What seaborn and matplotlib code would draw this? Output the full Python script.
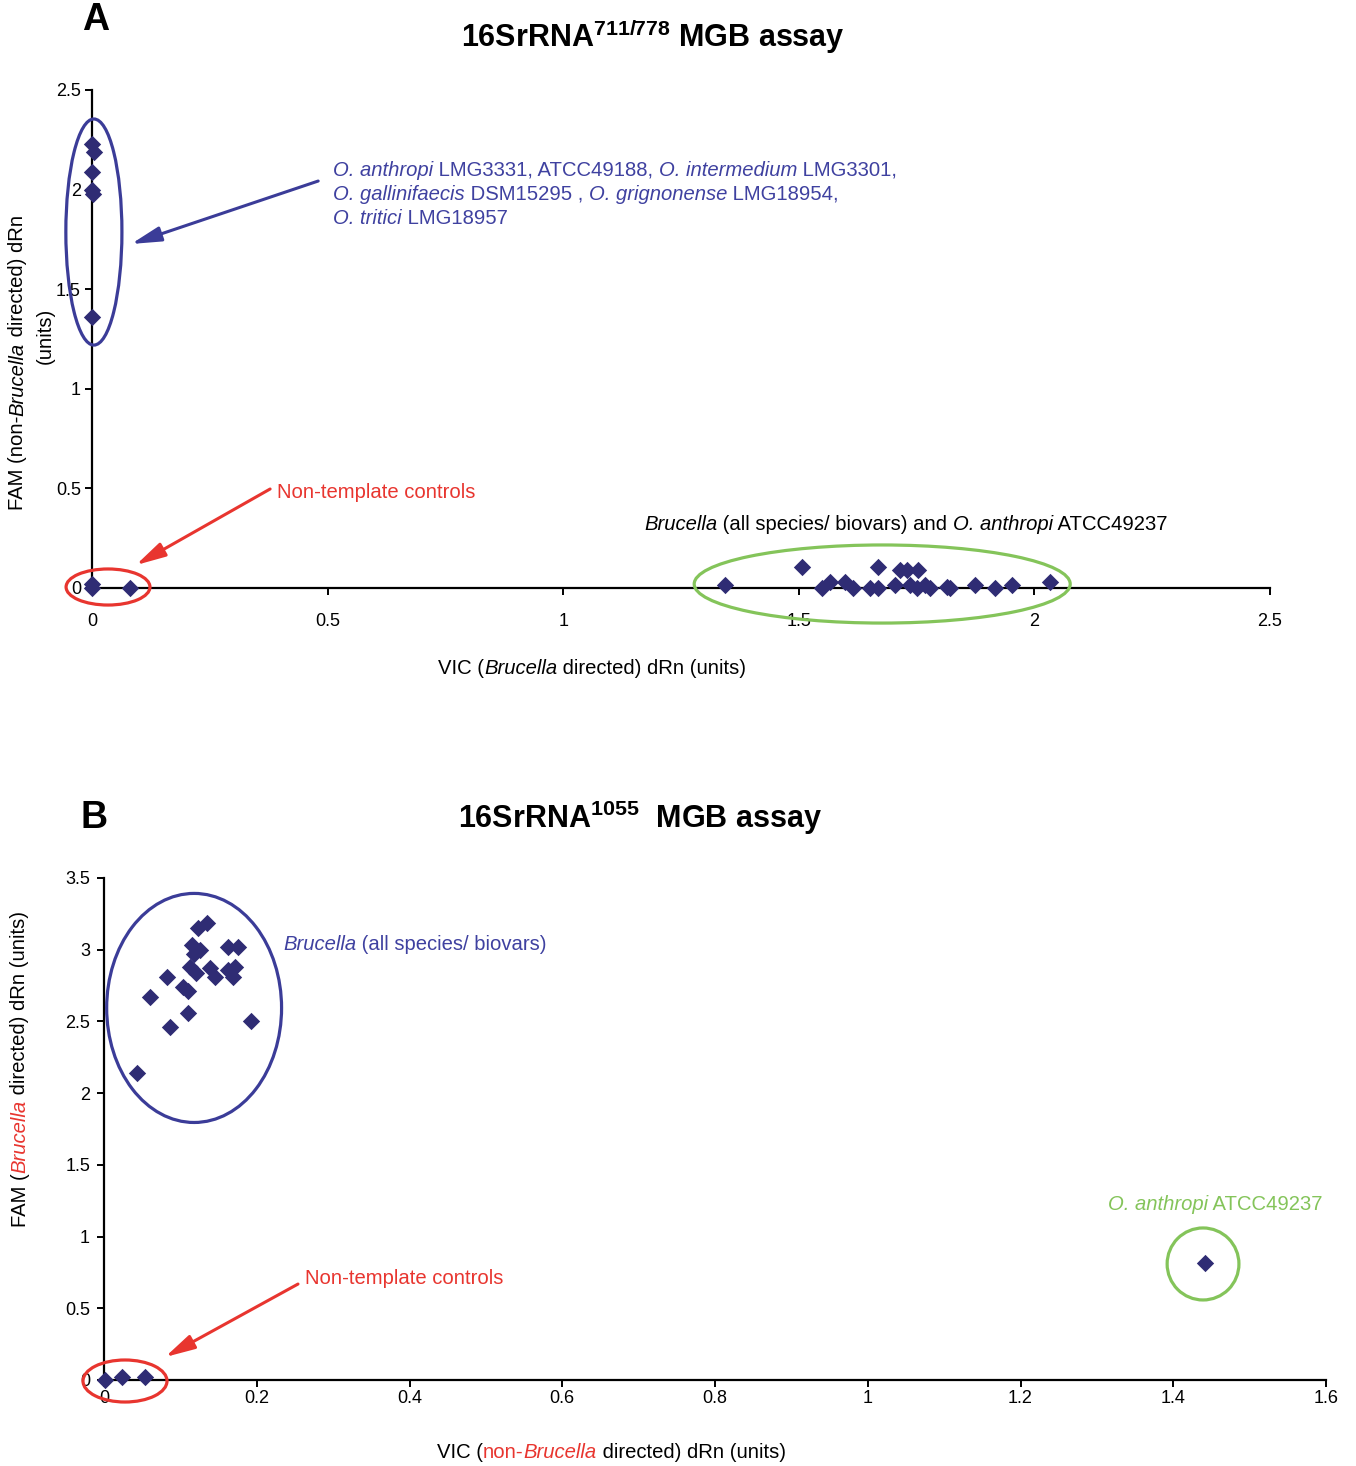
import numpy as np
import pandas as pd
import matplotlib
matplotlib.use("Agg")
import matplotlib.pyplot as plt
import seaborn as sns
from matplotlib.patches import Ellipse
from matplotlib import font_manager as fm

# ---------------- data ----------------
# Panel A (16SrRNA 711/778 MGB assay)
a_ochro_x = [0.0, 0.004, 0.0, 0.0, 0.003, 0.0]
a_ochro_y = [2.23, 2.19, 2.09, 2.00, 1.98, 1.36]
a_ntc_x = [0.0, 0.0, 0.08]
a_ntc_y = [0.02, 0.0, 0.0]
a_bru_x = [1.343, 1.506, 1.549, 1.566, 1.598, 1.616, 1.651, 1.669, 1.669, 1.704,
           1.715, 1.729, 1.736, 1.750, 1.754, 1.768, 1.778, 1.814, 1.820, 1.874,
           1.916, 1.952, 2.033]
a_bru_y = [0.015, 0.107, 0.0, 0.032, 0.032, 0.0, 0.0, 0.0, 0.107, 0.015,
           0.09, 0.09, 0.015, 0.0, 0.09, 0.015, 0.0, 0.007, 0.0, 0.015,
           0.0, 0.015, 0.032]

# Panel B (16SrRNA 1055 MGB assay)
b_bru_x = [0.1345, 0.1235, 0.115, 0.126, 0.163, 0.176, 0.1126, 0.121, 0.139, 0.145,
           0.163, 0.172, 0.169, 0.082, 0.104, 0.110, 0.060, 0.110, 0.086, 0.193,
           0.043, 0.118]
b_bru_y = [3.185, 3.15, 3.03, 3.00, 3.02, 3.02, 2.88, 2.84, 2.87, 2.81,
           2.86, 2.88, 2.81, 2.81, 2.74, 2.71, 2.67, 2.56, 2.46, 2.50,
           2.14, 2.97]
b_ntc_x = [0.001, 0.023, 0.054]
b_ntc_y = [0.0, 0.023, 0.023]
b_oan_x = [1.4416]
b_oan_y = [0.816]

a_ticks = [0, 0.5, 1, 1.5, 2, 2.5]
a_ticklabels = ["0", "0.5", "1", "1.5", "2", "2.5"]
b_xticks = [0, 0.2, 0.4, 0.6, 0.8, 1.0, 1.2, 1.4, 1.6]
b_xticklabels = ["0", "0.2", "0.4", "0.6", "0.8", "1", "1.2", "1.4", "1.6"]
b_yticks = [0, 0.5, 1, 1.5, 2, 2.5, 3, 3.5]
b_yticklabels = ["0", "0.5", "1", "1.5", "2", "2.5", "3", "3.5"]

df_a = pd.DataFrame({"x": a_ochro_x + a_ntc_x + a_bru_x,
                     "y": a_ochro_y + a_ntc_y + a_bru_y})
df_b = pd.DataFrame({"x": b_bru_x + b_ntc_x + b_oan_x,
                     "y": b_bru_y + b_ntc_y + b_oan_y})

# ---------------- style ----------------
sns.set_style("ticks")
names = {f.name for f in fm.fontManager.ttflist}
base = "Liberation Sans"
title_fam = "Liberation Sans Narrow" if "Liberation Sans Narrow" in names else base
plt.rcParams["font.family"] = [base, "DejaVu Sans"]
plt.rcParams["text.color"] = "black"
plt.rcParams["axes.labelcolor"] = "black"
plt.rcParams["xtick.color"] = "black"
plt.rcParams["ytick.color"] = "black"
plt.rcParams["mathtext.fontset"] = "custom"
plt.rcParams["mathtext.rm"] = base
plt.rcParams["mathtext.it"] = base + ":italic"
plt.rcParams["mathtext.bf"] = title_fam + ":bold"

MARK = "#2f2c74"
BLUE_E = "#3b3c98"
BLUE_T = "#3f41a0"
RED = "#e8352f"
GREEN = "#84c45a"
FS = 14.6

W, H = 1356, 1466
fig = plt.figure(figsize=(W / 100, H / 100), dpi=100)


def fx(px):
    return px / W


def fy(py):
    return 1 - py / H


def style_ax(ax, xpad, ypad):
    sns.despine(ax=ax)
    for s in ("left", "bottom"):
        ax.spines[s].set_linewidth(1.6)
        ax.spines[s].set_color("black")
    ax.tick_params(axis="both", length=5, width=1.4, colors="black")
    ax.tick_params(axis="x", pad=xpad)
    ax.tick_params(axis="y", pad=ypad)
    for lab in ax.get_xticklabels() + ax.get_yticklabels():
        lab.set_fontsize(13)
    ax.set_xlabel("")
    ax.set_ylabel("")
    ax.patch.set_alpha(0)


def chain(host, x_px, y_px, pieces, vertical=False):
    """Draw text pieces (string, colour, style) one after another."""
    s, c, st = pieces[0]
    if vertical:
        t = fig.text(fx(x_px), fy(y_px), s, color=c, fontstyle=st, fontsize=FS,
                     rotation=90, ha="center", va="bottom")
    else:
        t = fig.text(fx(x_px), fy(y_px), s, color=c, fontstyle=st, fontsize=FS,
                     ha="left", va="center")
    for s, c, st in pieces[1:]:
        if vertical:
            t = host.annotate(s, xy=(0.5, 1), xycoords=t, va="bottom", ha="center",
                              color=c, fontstyle=st, fontsize=FS, rotation=90,
                              annotation_clip=False)
        else:
            t = host.annotate(s, xy=(1, 0), xycoords=t, va="bottom", ha="left",
                              color=c, fontstyle=st, fontsize=FS, annotation_clip=False)


# ---------------- panel A ----------------
axA = fig.add_axes([fx(92), fy(588), (1270 - 92) / W, (588 - 90) / H])
sns.scatterplot(data=df_a, x="x", y="y", marker="D", s=78, color=MARK,
                edgecolor=MARK, linewidth=0, ax=axA, clip_on=False, zorder=5)
axA.set_xlim(0, 2.5)
axA.set_ylim(0, 2.5)
axA.set_xticks(a_ticks)
axA.set_xticklabels(a_ticklabels)
axA.set_yticks(a_ticks)
axA.set_yticklabels(a_ticklabels)
style_ax(axA, 13, 3)

for (c, w, h, col) in [((0.004, 1.787), 0.119, 1.135, BLUE_E),
                       ((0.034, 0.005), 0.178, 0.181, RED),
                       ((1.677, 0.02), 0.798, 0.392, GREEN)]:
    axA.add_patch(Ellipse(c, w, h, fill=False, lw=2.3, edgecolor=col, clip_on=False, zorder=4))

arrow_kw = dict(arrowstyle="-|>,head_length=1.0,head_width=0.25", lw=2.2, mutation_scale=18,
                shrinkA=0, shrinkB=0)
axA.annotate("", xy=(0.083, 1.727), xytext=(0.480, 2.043),
             arrowprops=dict(color=BLUE_E, **arrow_kw), annotation_clip=False)
axA.annotate("", xy=(0.093, 0.115), xytext=(0.378, 0.497),
             arrowprops=dict(color=RED, **arrow_kw), annotation_clip=False)

# ---------------- panel B ----------------
axB = fig.add_axes([fx(104), fy(1380), (1326 - 104) / W, (1380 - 878) / H])
sns.scatterplot(data=df_b, x="x", y="y", marker="D", s=78, color=MARK,
                edgecolor=MARK, linewidth=0, ax=axB, clip_on=False, zorder=5)
axB.set_xlim(0, 1.6)
axB.set_ylim(0, 3.5)
axB.set_xticks(b_xticks)
axB.set_xticklabels(b_xticklabels)
axB.set_yticks(b_yticks)
axB.set_yticklabels(b_yticklabels)
style_ax(axB, 2, 5)

for (c, w, h, col) in [((0.118, 2.594), 0.229, 1.597, BLUE_E),
                       ((0.0275, -0.007), 0.110, 0.293, RED),
                       ((1.439, 0.809), 0.094, 0.502, GREEN)]:
    axB.add_patch(Ellipse(c, w, h, fill=False, lw=2.3, edgecolor=col, clip_on=False, zorder=4))

axB.annotate("", xy=(0.080, 0.160), xytext=(0.254, 0.669),
             arrowprops=dict(color=RED, **arrow_kw), annotation_clip=False)

# ---------------- texts ----------------
fig.text(fx(96), fy(20), "A", fontsize=27, fontweight="bold", ha="center", va="center")
fig.text(fx(94), fy(818), "B", fontsize=27, fontweight="bold", ha="center", va="center")
fig.text(fx(653), fy(37), r"16SrRNA$^{\mathbf{711/778}}$ MGB assay", fontsize=22,
         fontweight="bold", family=[title_fam, base], ha="center", va="center")
fig.text(fx(640), fy(818), r"16SrRNA$^{\mathbf{1055}}$  MGB assay", fontsize=22,
         fontweight="bold", family=[title_fam, base], ha="center", va="center")

N, I = "normal", "italic"
K = "black"

# panel A labels
chain(axA, 438, 668, [("VIC (", K, N), ("Brucella", K, I), (" directed) dRn (units)", K, N)])
chain(axA, 18, 510, [("FAM (non-", K, N), ("Brucella", K, I), (" directed) dRn", K, N)],
      vertical=True)
fig.text(fx(45), fy(336), "(units)", fontsize=FS, rotation=90, ha="center", va="center")

chain(axA, 333, 170, [("O. anthropi", BLUE_T, I), (" LMG3331, ATCC49188, ", BLUE_T, N),
                      ("O. intermedium", BLUE_T, I), (" LMG3301,", BLUE_T, N)])
chain(axA, 333, 194, [("O. gallinifaecis", BLUE_T, I), (" DSM15295 , ", BLUE_T, N),
                      ("O. grignonense", BLUE_T, I), (" LMG18954,", BLUE_T, N)])
chain(axA, 333, 218, [("O. tritici", BLUE_T, I), (" LMG18957", BLUE_T, N)])

fig.text(fx(277), fy(492), "Non-template controls", fontsize=FS, color=RED, ha="left", va="center")
chain(axA, 644, 525, [("Brucella", K, I), (" (all species/ biovars) and ", K, N),
                      ("O. anthropi", K, I), (" ATCC49237", K, N)])

# panel B labels
chain(axB, 283, 945, [("Brucella", BLUE_T, I), (" (all species/ biovars)", BLUE_T, N)])
chain(axB, 1108, 1204, [("O. anthropi", GREEN, I), (" ATCC49237", GREEN, N)])
fig.text(fx(305), fy(1279), "Non-template controls", fontsize=FS, color=RED, ha="left", va="center")

chain(axB, 437, 1453, [("VIC (", K, N), ("non-", RED, N), ("Brucella", RED, I),
                       (" directed) dRn (units)", K, N)])
chain(axB, 20, 1227, [("FAM (", K, N), ("Brucella", RED, I),
                      (" directed) dRn (units)", K, N)], vertical=True)

fig.savefig("out.png", dpi=100)
